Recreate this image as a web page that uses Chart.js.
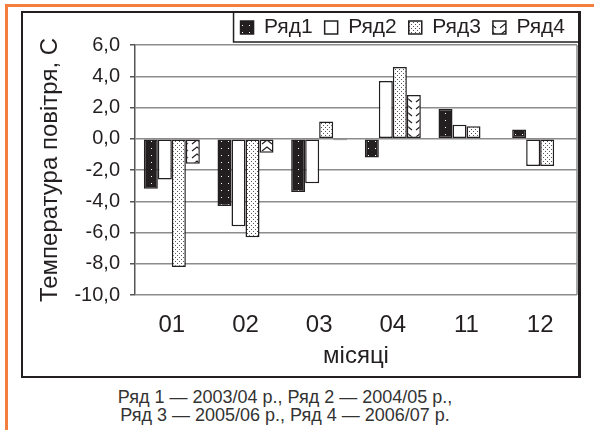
<!DOCTYPE html>
<html><head><meta charset="utf-8">
<script src="https://cdn.jsdelivr.net/npm/chart.js@4/dist/chart.umd.min.js"></script>
<style>
html,body{margin:0;padding:0;background:#fff;width:594px;height:430px;overflow:hidden;position:relative;font-family:"Liberation Sans",Arial,sans-serif}
#otop{position:absolute;left:5px;top:4px;width:589px;height:3px;background:#f47e3e}
#oleft{position:absolute;left:5px;top:4px;width:3px;height:426px;background:#f47e3e}
#frame{position:absolute;left:21px;top:11px;width:555px;height:363px;border:2px solid #231f20;border-right-width:3px}
#wrap{position:absolute;left:22px;top:12px;width:557px;height:365px}
#cap{position:absolute;left:-5px;width:580px;top:388px;text-align:center;font-size:18px;line-height:18px;color:#333}
</style></head><body>
<div id="otop"></div><div id="oleft"></div><div id="frame"></div>
<div id="wrap"><canvas id="c" width="557" height="365"></canvas></div>
<div id="cap">Ряд 1 — 2003/04 р., Ряд 2 — 2004/05 р.,<br>Ряд 3 — 2005/06 р., Ряд 4 — 2006/07 р.</div>
<script>
const categories = ['01','02','03','04','11','12'];
const seriesNames = ['Ряд1','Ряд2','Ряд3','Ряд4'];
const ryad1 = [-3.2, -4.3, -3.4, -1.2, 1.9, 0.6];
const ryad2 = [-2.6, -5.6, -2.85, 3.7, 0.9, -1.75];
const ryad3 = [-8.2, -6.3, 1.1, 4.6, 0.8, -1.75];
const ryad4 = [-1.6, -0.9, -0.1, 2.8, null, null];
const yTickValues = [-10, -8, -6, -4, -2, 0, 2, 4, 6];
const yTickLabels = ['-10,0','-8,0','-6,0','-4,0','-2,0','0,0','2,0','4,0','6,0'];
const yTitle = 'Температура повітря, С';
const xTitle = 'місяці';

const FONT = '"Liberation Sans", Arial, sans-serif';
const INK = '#231f20';

function makePattern(w, h, draw) {
  const c = document.createElement('canvas');
  c.width = w; c.height = h;
  const g = c.getContext('2d');
  draw(g);
  return g.createPattern(c, 'repeat');
}
const pat1 = makePattern(7, 7, g => { g.fillStyle = INK; g.fillRect(0,0,7,7); g.fillStyle = '#fff'; g.fillRect(3,3,1,1); });
const pat3 = makePattern(4, 4, g => { g.fillStyle = '#fff'; g.fillRect(0,0,4,4); g.fillStyle = '#555'; g.fillRect(1,1,1,1); g.fillRect(3,3,1,1); });
const pat4 = makePattern(14, 7, g => { g.fillStyle = '#fff'; g.fillRect(0,0,14,7); g.strokeStyle = INK; g.lineWidth = 1.2; g.beginPath(); g.moveTo(2,6); g.lineTo(7,2); g.lineTo(12,6); g.stroke(); });

const fills = [pat1, '#ffffff', pat3, pat4];
const values = [ryad1, ryad2, ryad3, ryad4];

const frameLines = {
  id: 'frameLines',
  beforeDatasetsDraw(chart) {
    const {ctx, chartArea: a} = chart;
    ctx.save();
    ctx.strokeStyle = '#8c8c8c'; ctx.lineWidth = 1.5;
    ctx.beginPath(); ctx.moveTo(a.right, a.top); ctx.lineTo(a.right, a.bottom); ctx.stroke();
    ctx.restore();
  },
  afterDraw(chart) {
    const lg = chart.legend;
    if (!lg || !lg.legendHitBoxes.length) return;
    const ctx = chart.ctx;
    const x0 = lg.legendHitBoxes[0].left - 7;
    ctx.save();
    ctx.strokeStyle = INK; ctx.lineWidth = 1.5;
    ctx.beginPath();
    ctx.moveTo(x0, 0); ctx.lineTo(x0, 30); ctx.lineTo(chart.width, 30);
    ctx.stroke();
    ctx.restore();
  }
};

const chart = new Chart(document.getElementById('c'), {
  type: 'bar',
  data: {
    labels: categories,
    datasets: seriesNames.map((n, i) => ({
      label: n,
      data: values[i],
      backgroundColor: fills[i],
      borderColor: INK,
      borderWidth: 1.5,
      borderSkipped: false,
      categoryPercentage: 0.76,
      barPercentage: 1.0
    }))
  },
  options: {
    responsive: false,
    animation: false,
    devicePixelRatio: 1,
    layout: { padding: { top: -10, left: 0, right: 2, bottom: 20 } },
    plugins: {
      legend: {
        position: 'top', align: 'end',
        labels: { font: { size: 21, family: FONT }, color: INK, boxWidth: 13, boxHeight: 13, padding: 12 }
      },
      tooltip: { enabled: false }
    },
    scales: {
      x: {
        grid: { display: false, drawTicks: false, tickLength: 0 },
        border: { display: false },
        ticks: { font: { size: 24, family: FONT, lineHeight: 1 }, color: INK, padding: 18 },
        title: { display: true, text: xTitle, font: { size: 24, family: FONT, lineHeight: '2px' }, color: INK, padding: { top: 0, bottom: 0 } }
      },
      y: {
        min: -10, max: 6,
        afterBuildTicks(s) { s.ticks = yTickValues.map(v => ({ value: v })); },
        ticks: {
          font: { size: 20, family: FONT }, color: INK, padding: 10,
          callback: v => yTickLabels[yTickValues.indexOf(v)]
        },
        grid: { color: '#8c8c8c', lineWidth: 1.5, tickLength: 5, tickColor: '#555' },
        border: { color: '#555', width: 1.5 },
        title: { display: true, text: yTitle, font: { size: 24, family: FONT }, color: INK, padding: { top: 14, bottom: 0 } },
        afterFit(s) { s.width = 113; }
      }
    }
  },
  plugins: [frameLines]
});
// nudge legend items slightly down inside their framed box
const legendDraw = chart.legend.draw;
chart.legend.draw = function (...args) {
  const ctx = this.ctx;
  ctx.save(); ctx.translate(0, 3);
  legendDraw.apply(this, args);
  ctx.restore();
};
chart.draw();
</script>
</body></html>
